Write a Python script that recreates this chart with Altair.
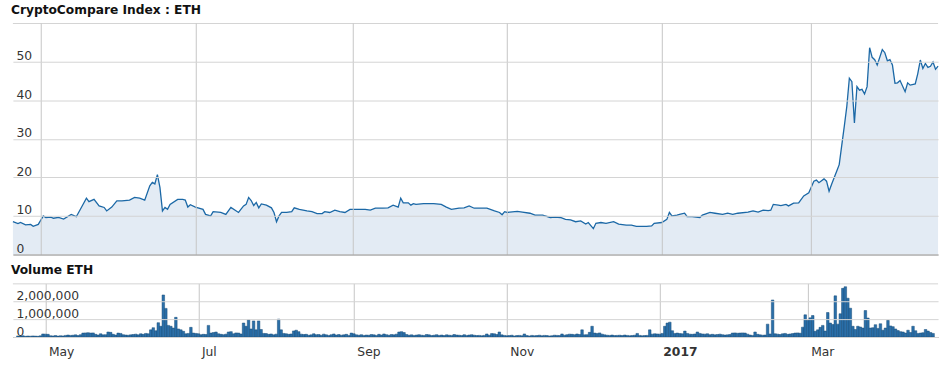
import altair as alt
import pandas as pd

# ---- data (day offsets from 2016-04-20) ----
price_days = [0, 2, 3, 5, 7, 8, 10, 11, 12, 13, 15, 16, 18, 20, 23, 25, 27, 29, 30, 32,
              34, 36, 37, 39, 41, 43, 46, 48, 50, 52, 54, 55, 56, 57, 58, 59, 60, 61, 62, 65,
              67, 68, 69, 70, 72, 75, 76, 78, 79, 82, 84, 86, 89, 91, 92, 93, 94, 95, 96, 97,
              98, 100, 102, 103, 104, 105, 106, 108, 110, 111, 113, 116, 118, 120, 122, 123, 125, 127, 129, 131,
              133, 136, 139, 141, 143, 146, 148, 150, 152, 153, 154, 156, 157, 158, 159, 162, 166, 169, 171, 173,
              176, 178, 180, 182, 187, 190, 192, 193, 194, 195, 196, 199, 201, 204, 206, 209, 212, 214, 216, 218,
              220, 222, 224, 226, 227, 229, 230, 232, 234, 237, 239, 242, 244, 246, 250, 252, 253, 256, 258, 259,
              260, 262, 263, 265, 266, 268, 271, 272, 275, 277, 280, 282, 284, 286, 290, 292, 294, 296, 298, 299,
              300, 302, 303, 305, 306, 308, 310, 312, 314, 316, 317, 318, 320, 321, 322, 323, 325, 326, 327, 328,
              329, 330, 331, 332, 333, 334, 335, 336, 337, 338, 339, 340, 341, 343, 344, 345, 346, 347, 348, 349,
              350, 352, 353, 354, 356, 357, 358, 359, 360, 361, 362, 363, 364, 365]
price_usd = [8.5, 8.0, 8.3, 7.7, 7.8, 7.3, 7.8, 8.9, 10.0, 9.6, 9.7, 9.4, 9.6, 9.2, 10.4, 9.8, 12.2, 14.6, 13.7, 14.3,
             12.6, 12.2, 11.3, 12.3, 13.9, 13.9, 14.1, 14.8, 14.6, 14.1, 17.8, 18.7, 18.3, 20.7, 17.4, 11.3, 12.2, 11.7, 13.0, 14.3,
             14.3, 14.1, 12.3, 12.9, 12.3, 11.7, 10.4, 10.0, 11.1, 10.9, 10.4, 12.2, 10.9, 12.6, 13.0, 14.8, 14.0, 12.7, 13.5, 12.1,
             13.1, 12.8, 12.1, 10.9, 8.5, 10.0, 10.9, 10.9, 11.1, 12.1, 11.7, 11.3, 11.1, 10.6, 10.6, 11.1, 10.9, 11.5, 11.1, 10.9,
             11.7, 11.7, 11.7, 11.5, 12.0, 12.0, 12.1, 12.8, 12.3, 14.6, 13.4, 13.4, 12.8, 13.2, 13.0, 13.2, 13.2, 13.0, 12.3, 11.7,
             12.0, 12.1, 12.6, 12.0, 12.0, 11.3, 10.9, 10.3, 11.1, 10.9, 11.0, 11.2, 11.0, 10.7, 10.2, 10.2, 9.6, 9.7, 9.6, 9.1,
             9.0, 8.5, 8.7, 7.9, 8.3, 6.7, 8.1, 8.3, 8.1, 8.5, 7.9, 7.6, 7.6, 7.3, 7.3, 7.4, 8.1, 8.3, 9.1, 10.9,
             10.0, 10.2, 10.4, 10.7, 9.8, 9.8, 9.6, 10.2, 10.9, 10.7, 10.4, 10.7, 10.4, 10.7, 11.0, 11.3, 11.0, 11.5, 11.4, 11.5,
             13.0, 12.8, 12.7, 13.0, 12.6, 13.3, 13.4, 15.2, 16.0, 19.0, 19.3, 18.6, 19.6, 19.0, 16.4, 18.2, 21.6, 23.3, 28.3, 33.2,
             38.4, 45.7, 44.8, 34.1, 43.5, 42.6, 42.8, 41.6, 43.5, 53.6, 51.1, 50.5, 49.1, 53.1, 52.3, 50.2, 50.5, 49.1, 44.4, 44.5,
             45.1, 42.2, 44.5, 43.9, 44.2, 46.9, 50.4, 48.2, 49.5, 48.5, 48.8, 49.9, 48.0, 48.8]

# daily volume in thousands of ETH, day 0 = 2016-04-20
volume_k = [60, 50, 70, 40, 55, 45, 60, 50, 40, 65,
            170, 160, 150, 70, 60, 80, 50, 70, 60, 90,
            110, 90, 100, 120, 80, 130, 220, 230, 240, 220,
            230, 150, 110, 180, 120, 130, 280, 260, 150, 110,
            220, 200, 130, 110, 100, 120, 140, 160, 120, 180,
            150, 200, 180, 400, 520, 350, 800, 600, 2350, 1600,
            650, 600, 500, 1100, 450, 400, 320, 180, 200, 540,
            220, 200, 180, 130, 150, 140, 650, 220, 250, 280,
            180, 150, 130, 160, 280, 300, 180, 230, 220, 170,
            780, 600, 960, 450, 900, 400, 900, 420, 200, 190,
            150, 170, 120, 160, 1000, 400, 200, 180, 150, 170,
            340, 380, 300, 160, 140, 150, 100, 120, 180, 130,
            140, 100, 160, 120, 90, 130, 170, 110, 140, 100,
            120, 150, 90, 220, 180, 120, 100, 130, 90, 110,
            100, 140, 120, 90, 150, 110, 170, 130, 100, 140,
            120, 160, 280, 300, 250, 140, 100, 120, 90, 110,
            130, 100, 90, 140, 120, 80, 100, 130, 90, 110,
            80, 120, 100, 90, 140, 110, 100, 80, 130, 90,
            110, 130, 100, 80, 90, 70, 90, 170, 100, 190,
            180, 140, 280, 120, 90, 70, 80, 100, 60, 80,
            90, 70, 170, 80, 60, 90, 70, 80, 100, 70,
            90, 80, 60, 70, 100, 90, 80, 170, 100, 130,
            160, 150, 130, 170, 140, 400, 120, 130, 260, 600,
            220, 200, 230, 160, 120, 100, 90, 110, 80, 90,
            100, 80, 110, 90, 70, 80, 100, 200, 90, 70,
            80, 90, 400, 160, 180, 170, 160, 200, 600, 780,
            830, 350, 200, 220, 190, 180, 330, 200, 160, 150,
            170, 280, 200, 170, 160, 180, 130, 150, 120, 140,
            160, 130, 110, 120, 140, 220, 230, 210, 220, 230,
            220, 160, 110, 90, 280, 150, 120, 100, 110, 720,
            170, 2070, 180, 160, 140, 180, 200, 150, 170, 190,
            220, 230, 210, 550, 1240, 930, 1070, 1200, 320, 400,
            540, 650, 330, 1370, 780, 700, 2300, 720, 1300, 2720,
            2810, 2170, 1610, 600, 420, 600, 560, 500, 1480, 1060,
            500, 520, 690, 480, 740, 380, 500, 930, 620, 580,
            450, 360, 300, 280, 220, 380, 250, 600, 350, 200,
            220, 240, 420, 330, 250, 200]

month_ticks = ["2016-05-01", "2016-07-01", "2016-09-01", "2016-11-01", "2017-01-01", "2017-03-01"]
price_labels = [0, 10, 20, 30, 40, 50]
price_max = 60
volume_labels = [0, 1000000, 2000000]
volume_max = 3000000
price_title = "CryptoCompare Index : ETH"
volume_title = "Volume ETH"

# ---- tables ----
base = pd.Timestamp("2016-04-20")
price_df = pd.DataFrame({
    "date": base + pd.to_timedelta(price_days, unit="D"),
    "price": price_usd,
})
vol_df = pd.DataFrame({
    "date": base + pd.to_timedelta(list(range(len(volume_k))), unit="D"),
    "volume": [v * 1000 for v in volume_k],
})

FONT = "DejaVu Sans"
GRID = "#d4d4d4"
VGRID = "#c6c6c6"
tick_vals = [alt.DateTime(year=int(s[:4]), month=int(s[5:7]), date=1) for s in month_ticks]
xscale = alt.Scale(domain=[alt.DateTime(year=2016, month=4, date=20),
                           alt.DateTime(year=2017, month=4, date=20)])

W = 931


def yaxis(values, fmt):
    return alt.Axis(values=values, format=fmt, title=None, ticks=False, domain=False,
                    labelAlign="left", labelPadding=-3, labelBaseline="alphabetic",
                    labelOffset=-2, labelFlush=False, labelOverlap=False,
                    labelFont=FONT, labelFontSize=12.4, labelColor="#333333",
                    grid=True, gridColor=GRID, gridWidth=1, zindex=1)


def title_mark(text):
    return alt.Chart(pd.DataFrame({"t": [text]})).mark_text(
        align="left", baseline="alphabetic", font=FONT, fontSize=12.3,
        fontWeight="bold", color="#111111"
    ).encode(text="t:N", x=alt.value(-2), y=alt.value(-9))


def top_border():
    return alt.Chart(pd.DataFrame({"t": [0]})).mark_rule(color=GRID, strokeWidth=1).encode(
        x=alt.value(0), x2=alt.value(W), y=alt.value(0.5))


x_top = alt.X("date:T", scale=xscale,
              axis=alt.Axis(values=tick_vals, labels=False, ticks=False, title=None,
                            domain=True, domainColor="#9a9a9a", domainWidth=1,
                            grid=True, gridColor=VGRID, zindex=1))
y_top = alt.Y("price:Q", scale=alt.Scale(domain=[0, price_max], nice=False, zero=True),
              axis=yaxis(price_labels, "d"))

price_base = alt.Chart(price_df).encode(x=x_top, y=y_top)
area = price_base.mark_area(color="#e3ebf4", opacity=1)
line = price_base.mark_line(color="#1b68a6", strokeWidth=1.3)

top = alt.layer(area, line, top_border(), title_mark(price_title)).properties(width=W, height=233)

x_bot = alt.X("date:T", scale=xscale,
              axis=alt.Axis(values=tick_vals, ticks=False, title=None,
                            domain=True, domainColor="#9a9a9a", domainWidth=1,
                            grid=True, gridColor=VGRID,
                            labelAlign="left", labelPadding=9, labelOffset=3,
                            labelFlush=False, labelOverlap=False,
                            labelFont=FONT, labelFontSize=12.4, labelColor="#333333",
                            labelExpr="month(datum.value) == 0 ? timeFormat(datum.value, '%Y') : timeFormat(datum.value, '%b')",
                            labelFontWeight={"condition": {"test": "month(datum.value) == 0", "value": "bold"},
                                             "value": "normal"}))
y_bot = alt.Y("volume:Q", scale=alt.Scale(domain=[0, volume_max], nice=False),
              axis=yaxis(volume_labels, ",d"))

bars = alt.Chart(vol_df).mark_bar(size=2.55, color="#2a6fa9", stroke="#174a78",
                                  strokeWidth=0.5, clip=True).encode(x=x_bot, y=y_bot)

bottom = alt.layer(bars, top_border(), title_mark(volume_title)).properties(width=W, height=54)

chart = alt.vconcat(top, bottom, spacing=9).properties(
    padding={"left": 10, "top": 3, "right": 7, "bottom": 0},
    background="white",
).configure_view(stroke=None)

chart.save("out.html", embed_options={"renderer": "svg", "actions": False})
